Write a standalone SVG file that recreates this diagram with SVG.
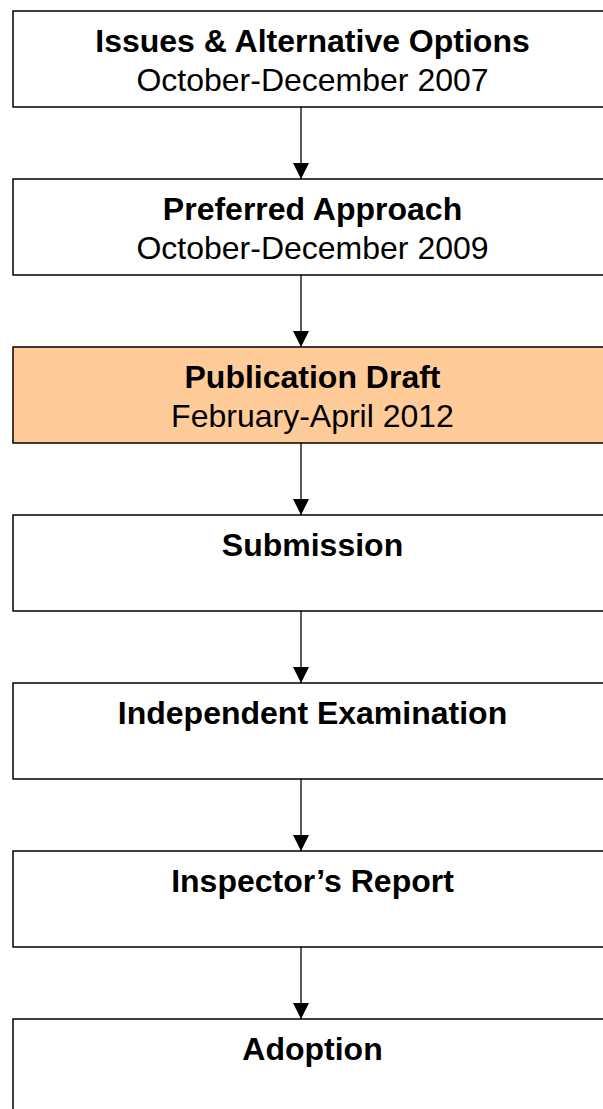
<svg xmlns="http://www.w3.org/2000/svg" width="603" height="1109" viewBox="0 0 603 1109">
<style>
.box{fill:#ffffff;stroke:#000000;stroke-width:1.5}
.hl{fill:#ffcc99}
.t{font-family:"Liberation Sans",Arial,sans-serif;font-size:32px;fill:#000000;text-anchor:middle}
.b{font-weight:bold}
.conn line{stroke:#000000;stroke-width:1.3}
</style>
<defs>
<marker id="ah" viewBox="0 0 16 16" refX="16" refY="8" markerWidth="16" markerHeight="16" markerUnits="userSpaceOnUse" orient="auto">
<path d="M0,0 L16,8 L0,16 Z" fill="#000000"/>
</marker>
</defs>
<rect width="603" height="1109" fill="#ffffff"/>
<g id="connectors" class="conn">
<line x1="301" y1="107" x2="301" y2="179" marker-end="url(#ah)"/>
<line x1="301" y1="275" x2="301" y2="347" marker-end="url(#ah)"/>
<line x1="301" y1="443" x2="301" y2="515" marker-end="url(#ah)"/>
<line x1="301" y1="611" x2="301" y2="683" marker-end="url(#ah)"/>
<line x1="301" y1="779" x2="301" y2="851" marker-end="url(#ah)"/>
<line x1="301" y1="947" x2="301" y2="1019" marker-end="url(#ah)"/>
</g>
<g id="n1">
<rect class="box" x="13" y="11" width="600" height="96"/>
<text class="t b" x="312.5" y="52">Issues &amp; Alternative Options</text>
<text class="t" x="312.5" y="91">October-December 2007</text>
</g>
<g id="n2">
<rect class="box" x="13" y="179" width="600" height="96"/>
<text class="t b" x="312.5" y="220">Preferred Approach</text>
<text class="t" x="312.5" y="259">October-December 2009</text>
</g>
<g id="n3">
<rect class="box hl" x="13" y="347" width="600" height="96"/>
<text class="t b" x="312.5" y="388">Publication Draft</text>
<text class="t" x="312.5" y="427">February-April 2012</text>
</g>
<g id="n4">
<rect class="box" x="13" y="515" width="600" height="96"/>
<text class="t b" x="312.5" y="556">Submission</text>
</g>
<g id="n5">
<rect class="box" x="13" y="683" width="600" height="96"/>
<text class="t b" x="312.5" y="724">Independent Examination</text>
</g>
<g id="n6">
<rect class="box" x="13" y="851" width="600" height="96"/>
<text class="t b" x="312.5" y="892">Inspector’s Report</text>
</g>
<g id="n7">
<rect class="box" x="13" y="1019" width="600" height="96"/>
<text class="t b" x="312.5" y="1060">Adoption</text>
</g>
</svg>
